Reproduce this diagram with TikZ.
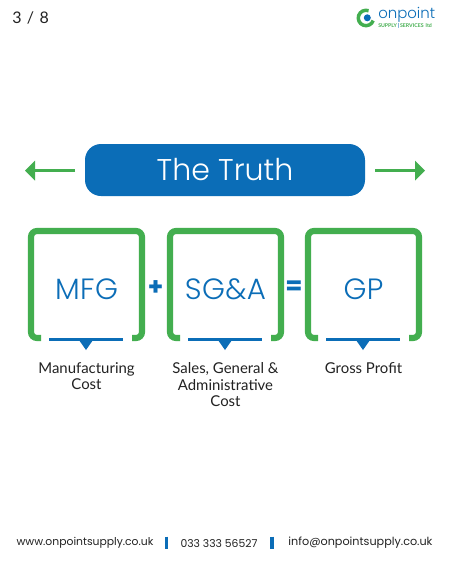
\documentclass[tikz,border=0pt]{standalone}
\usepackage{fontspec}
\setmainfont{Lato}
\newfontfamily\popfont{Poppins}
\newfontfamily\poplight{Poppins Light}
\definecolor{opgreen}{HTML}{43AE4F}
\definecolor{opblue}{HTML}{0B6DB7}
\definecolor{txtdark}{HTML}{222222}
\tikzset{
  x=0.75pt,y=-0.75pt,
  bracketline/.style={draw=opgreen,line width=4.6pt,rounded corners=4.5pt,line cap=butt},
  baseline rule/.style={draw=opblue,line width=2pt},
  pointer/.style={fill=opblue,draw=none},
  arrowline/.style={draw=opgreen,line width=2.6pt},
  arrowtip/.style={fill=opgreen,draw=none},
  boxtext/.style={text=opblue,font=\poplight\fontsize{22}{25}\selectfont\addfontfeature{LetterSpace=1.5},inner sep=0pt,anchor=center},
  captext/.style={text=txtdark,font=\fontsize{11.2}{12.6}\selectfont,align=center,anchor=north,inner sep=0pt},
  optext/.style={text=opblue,font=\popfont\bfseries\fontsize{18.5}{20}\selectfont,inner sep=0pt,anchor=center},
  foottext/.style={text=txtdark,font=\popfont\fontsize{8.1}{10}\selectfont,inner sep=0pt,anchor=center},
  footbar/.style={draw=opblue,line width=2.4pt},
}
\newcommand{\opbox}[4]{%
  \draw[bracketline] (#1+13,338) -- (#1+3,338) -- (#1+3,231) -- (#1+114,231) -- (#1+114,338) -- (#1+104,338);
  \draw[baseline rule] (#1+21,339.5) -- (#1+95,339.5);
  \fill[pointer] (#1+51,340) -- (#1+65,340) -- (#1+58,350) -- cycle;
  \node[boxtext] (#3) at (#1+58.5,289) {#2};
  \node[captext] (#3cap) at (#1+58.5,362) {#4};
}
\begin{document}
\begin{tikzpicture}
\useasboundingbox (0,0) rectangle (450,562);
\fill[white] (0,0) rectangle (450,562);
\node[text=txtdark,font=\fontsize{12}{14}\selectfont\addfontfeature{LetterSpace=8},anchor=west,inner sep=0pt] (page) at (12,18) {3 / 8};
% logo
\draw[opgreen,line width=2.6pt] (373.2,20.6) arc (20:290:7.7);
\fill[opblue] (367.3,17.8) circle (3.5);
\node[text=opblue,font=\poplight\fontsize{11.2}{12}\selectfont,anchor=west,inner sep=0pt] (logoa) at (378,14.5) {onpoint};
\node[text=opgreen,font=\fontsize{3.9}{4}\selectfont\bfseries,anchor=west,inner sep=0pt] (logob) at (378,26) {SUPPLY\,{\color{opblue}|}\,SERVICES\, ltd};
% title
\node[fill=opblue,rounded corners=12pt,minimum width=210pt,minimum height=39pt,inner sep=0pt,text=white,font=\poplight\fontsize{22.5}{27}\selectfont] (title) at (225,170) {The Truth};
\coordinate (la) at (75,170.5);
\coordinate (lb) at (33,170.5);
\coordinate (ra) at (375,170.5);
\coordinate (rb) at (417,170.5);
\draw[arrowline] (la) -- (lb);
\fill[arrowtip] (25,170.5) -- (35,160.5) -- (35,180.5) -- cycle;
\draw[arrowline] (ra) -- (rb);
\fill[arrowtip] (425,170.5) -- (415,160.5) -- (415,180.5) -- cycle;
% boxes
\opbox{28}{MFG}{mfg}{Manufacturing\\Cost}
\opbox{167}{SG\&A}{sga}{Sales, General \&\\Administrative\\Cost}
\opbox{305}{GP}{gp}{Gross Profit}
\node[optext] (plus) at (155.5,288) {+};
\node[optext] (equals) at (294,288) {=};
% footer
\node[foottext] (web) at (85,543) {www.onpointsupply.co.uk};
\draw[footbar] (166.5,536.5) -- (166.5,549);
\node[foottext] (tel) at (219,544) {033 333 56527};
\draw[footbar] (272,536.5) -- (272,549);
\node[foottext,font=\popfont\fontsize{8.4}{10}\selectfont] (mail) at (360.5,543) {info@onpointsupply.co.uk};
\end{tikzpicture}
\end{document}
